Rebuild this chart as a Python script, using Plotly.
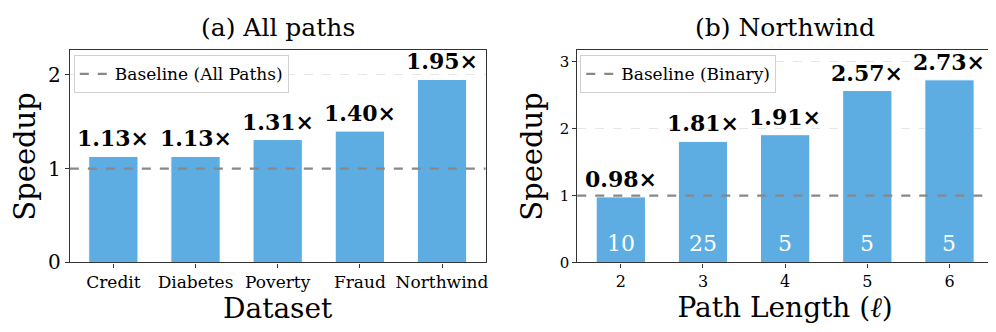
import plotly.graph_objects as go

datasets = ["Credit", "Diabetes", "Poverty", "Fraud", "Northwind"]
speedup_all = [1.13, 1.13, 1.31, 1.40, 1.95]

path_lengths = ["2", "3", "4", "5", "6"]
speedup_nw = [0.98, 1.81, 1.91, 2.57, 2.73]
path_counts = [10, 25, 5, 5, 5]

BAR = "#5DADE2"
FONT = "DejaVu Serif"
AX = "#333333"

fig = go.Figure()

fig.add_trace(go.Bar(x=datasets, y=speedup_all, width=0.6, marker=dict(color=BAR, line=dict(color="white", width=1)),
                     showlegend=False, xaxis="x", yaxis="y", hoverinfo="skip"))
fig.add_trace(go.Bar(x=path_lengths, y=speedup_nw, width=0.6, marker=dict(color=BAR, line=dict(color="white", width=1)),
                     showlegend=False, xaxis="x2", yaxis="y2", hoverinfo="skip"))

ann = []
for i, v in enumerate(speedup_all):
    ann.append(dict(x=i, y=v, xref="x", yref="y", text=f"<b>{v:.2f}×</b>", showarrow=False,
                    yanchor="bottom", yshift=3, font=dict(family=FONT, size=22, color="black")))
for i, (v, n) in enumerate(zip(speedup_nw, path_counts)):
    ann.append(dict(x=i, y=v, xref="x2", yref="y2", text=f"<b>{v:.2f}×</b>", showarrow=False,
                    yanchor="bottom", yshift=3, font=dict(family=FONT, size=22, color="black")))
    ann.append(dict(x=i, y=0, xref="x2", yref="y2", text=str(n), showarrow=False,
                    yanchor="middle", yshift=19, font=dict(family=FONT, size=22, color="white")))

ann.append(dict(x=0.2717, y=1 - 20 / 332, xref="paper", yref="paper", text="(a) All paths", showarrow=False,
                xanchor="center", yanchor="middle", font=dict(family=FONT, size=25, color="black")))
ann.append(dict(x=0.7828, y=1 - 20 / 332, xref="paper", yref="paper", text="(b) Northwind", showarrow=False,
                xanchor="center", yanchor="middle", font=dict(family=FONT, size=25, color="black")))
fig.update_layout(annotations=ann)

shapes = [
    dict(type="line", xref="x domain", yref="y", x0=0, x1=1, y0=1, y1=1,
         line=dict(color="#888888", width=2.2, dash="dash"), showlegend=True, name="Baseline (All Paths)", legend="legend"),
    dict(type="line", xref="x2 domain", yref="y2", x0=0, x1=1, y0=1, y1=1,
         line=dict(color="#888888", width=2.2, dash="dash"), showlegend=True, name="Baseline (Binary)", legend="legend2"),
]
fig.update_layout(shapes=shapes)

common_x = dict(showline=True, linecolor=AX, linewidth=1.2, mirror=True, ticks="outside", ticklen=4,
                tickcolor=AX, showgrid=False, range=[-0.53, 4.53], type="category")
common_y = dict(showline=True, linecolor=AX, linewidth=1.2, mirror=True, ticks="outside", ticklen=4,
                tickcolor=AX, showgrid=True, gridcolor="#e6e6e6", griddash="dash", gridwidth=1, zeroline=False)

fig.update_layout(
    width=996, height=332,
    margin=dict(l=0, r=0, t=0, b=0),
    paper_bgcolor="white", plot_bgcolor="white",
    bargap=0.4,
    xaxis=dict(domain=[62 / 996, 479 / 996], anchor="y", tickfont=dict(family=FONT, size=17, color="black"),
               title=dict(text="Dataset", font=dict(family=FONT, size=28, color="black"), standoff=2), **common_x),
    yaxis=dict(domain=[1 - 264 / 332, 1 - 44 / 332], anchor="x", range=[0, 2.26], tickvals=[0, 1, 2],
               tickfont=dict(family=FONT, size=20, color="black"),
               title=dict(text="Speedup", font=dict(family=FONT, size=29, color="black"), standoff=4), **common_y),
    xaxis2=dict(domain=[571 / 996, 988 / 996], anchor="y2", tickfont=dict(family=FONT, size=16, color="black"),
                title=dict(text="Path Length (<i>ℓ</i>)", font=dict(family=FONT, size=28, color="black"), standoff=2), **common_x),
    yaxis2=dict(domain=[1 - 264 / 332, 1 - 44 / 332], anchor="x2", range=[0, 3.17], tickvals=[0, 1, 2, 3],
                tickfont=dict(family=FONT, size=15, color="black"),
                title=dict(text="Speedup", font=dict(family=FONT, size=29, color="black"), standoff=8), **common_y),
    legend=dict(x=66 / 996, y=1 - 49 / 332, xanchor="left", yanchor="top", bgcolor="white",
                bordercolor="#d0d0d0", borderwidth=1, font=dict(family=FONT, size=17, color="black")),
    legend2=dict(x=574 / 996, y=1 - 49 / 332, xanchor="left", yanchor="top", bgcolor="white",
                 bordercolor="#d0d0d0", borderwidth=1, font=dict(family=FONT, size=17, color="black")),
)

fig.write_html("out.html")
